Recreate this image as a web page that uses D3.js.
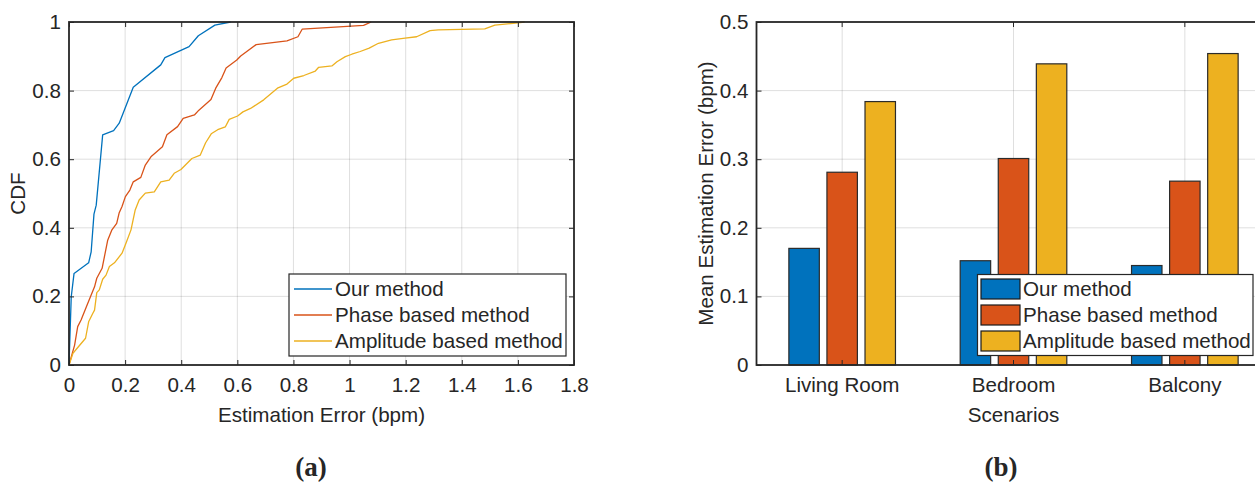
<!DOCTYPE html>
<html>
<head>
<meta charset="utf-8">
<script src="https://cdn.jsdelivr.net/npm/d3@7"></script>
<style>
  html, body { margin: 0; padding: 0; background: #fff; }
  svg { display: block; }
  text { font-family: "Liberation Sans", Arial, sans-serif; fill: #262626; }
</style>
</head>
<body>
<svg id="chart" width="1255" height="483"></svg>
<script>
// ---------- Data: panel (a) CDF ----------
const seriesNames = ["Our method", "Phase based method", "Amplitude based method"];
const seriesColors = ["#0072BD", "#D95319", "#EDB120"];

const ourX = [0, 0.008, 0.018, 0.070, 0.079, 0.089, 0.097, 0.120, 0.159, 0.179, 0.229, 0.327, 0.342, 0.428, 0.461, 0.520, 0.576];
const ourY = [0, 0.199, 0.267, 0.298, 0.330, 0.440, 0.466, 0.671, 0.683, 0.705, 0.810, 0.875, 0.896, 0.928, 0.960, 0.991, 1.0];

const phaseX = [0, 0.020, 0.031, 0.043, 0.067, 0.091, 0.099, 0.118, 0.138, 0.153, 0.170, 0.179, 0.189, 0.201, 0.217, 0.229, 0.256, 0.272, 0.292, 0.333, 0.349, 0.387, 0.407, 0.447, 0.463, 0.506, 0.523, 0.545, 0.560, 0.598, 0.612, 0.667, 0.777, 0.816, 0.831, 1.050, 1.077];
const phaseY = [0, 0.058, 0.112, 0.131, 0.180, 0.228, 0.253, 0.282, 0.364, 0.394, 0.413, 0.444, 0.462, 0.491, 0.510, 0.534, 0.547, 0.583, 0.607, 0.636, 0.671, 0.695, 0.719, 0.729, 0.743, 0.774, 0.807, 0.838, 0.866, 0.889, 0.901, 0.934, 0.945, 0.957, 0.979, 0.990, 1.0];

const ampX = [0, 0.014, 0.026, 0.059, 0.070, 0.085, 0.091, 0.099, 0.108, 0.120, 0.132, 0.144, 0.162, 0.189, 0.203, 0.221, 0.236, 0.250, 0.272, 0.304, 0.327, 0.357, 0.375, 0.399, 0.438, 0.468, 0.487, 0.507, 0.530, 0.557, 0.571, 0.601, 0.620, 0.647, 0.694, 0.745, 0.777, 0.801, 0.837, 0.878, 0.890, 0.937, 0.955, 0.985, 1.008, 1.038, 1.070, 1.103, 1.150, 1.198, 1.239, 1.287, 1.316, 1.482, 1.518, 1.583, 1.624];
const ampY = [0, 0.034, 0.046, 0.078, 0.126, 0.151, 0.160, 0.211, 0.219, 0.250, 0.262, 0.287, 0.298, 0.326, 0.355, 0.394, 0.452, 0.481, 0.501, 0.505, 0.534, 0.539, 0.559, 0.570, 0.602, 0.612, 0.648, 0.674, 0.686, 0.694, 0.716, 0.726, 0.738, 0.748, 0.773, 0.808, 0.819, 0.836, 0.844, 0.857, 0.868, 0.872, 0.884, 0.899, 0.906, 0.914, 0.924, 0.938, 0.948, 0.953, 0.957, 0.975, 0.977, 0.980, 0.991, 0.996, 1.0];

const cdfXTicks = [0, 0.2, 0.4, 0.6, 0.8, 1, 1.2, 1.4, 1.6, 1.8];
const cdfYTicks = [0, 0.2, 0.4, 0.6, 0.8, 1];

// ---------- Data: panel (b) bars ----------
const categories = ["Living Room", "Bedroom", "Balcony"];
const ourMean = [0.170, 0.152, 0.145];
const phaseMean = [0.281, 0.301, 0.268];
const ampMean = [0.384, 0.439, 0.454];
const barYTicks = [0, 0.1, 0.2, 0.3, 0.4, 0.5];

// ---------- Setup ----------
const svg = d3.select("#chart");
svg.append("rect").attr("width", 1255).attr("height", 483).attr("fill", "#fff");
const AX = "#262626", GRID = "rgba(38,38,38,0.15)", FS = 20.6;
const fmt = d3.format("~g");

// ---------- Panel (a) ----------
const xA = d3.scaleLinear().domain([0, 1.8]).range([69, 574]);
const yA = d3.scaleLinear().domain([0, 1]).range([365, 22]);
const gA = svg.append("g");

// grid
gA.selectAll(".vg").data(cdfXTicks.slice(1, -1)).join("line")
  .attr("x1", d => xA(d)).attr("x2", d => xA(d)).attr("y1", yA(0)).attr("y2", yA(1))
  .attr("stroke", GRID).attr("stroke-width", 1);
gA.selectAll(".hg").data(cdfYTicks.slice(1, -1)).join("line")
  .attr("y1", d => yA(d)).attr("y2", d => yA(d)).attr("x1", xA(0)).attr("x2", xA(1.8))
  .attr("stroke", GRID).attr("stroke-width", 1);

// curves
const cdfSeries = [[ourX, ourY], [phaseX, phaseY], [ampX, ampY]];
const lineA = d3.line().x(d => xA(d[0])).y(d => yA(d[1]));
cdfSeries.forEach((s, i) => {
  const pts = s[0].map((x, k) => [x, s[1][k]]);
  gA.append("path").attr("d", lineA(pts)).attr("fill", "none")
    .attr("stroke", seriesColors[i]).attr("stroke-width", 1.3).attr("stroke-linejoin", "round");
});

// axes
function styleAxis(g, hideLabels) {
  g.select(".domain").remove();
  g.selectAll(".tick line").attr("stroke", AX).attr("stroke-width", 1);
  g.selectAll(".tick text").attr("fill", AX).style("font-size", FS + "px")
    .style("font-family", '"Liberation Sans", Arial, sans-serif');
  if (hideLabels) g.selectAll(".tick text").remove();
}
gA.append("g").attr("transform", `translate(0,${yA(0)})`)
  .call(d3.axisBottom(xA).tickValues(cdfXTicks).tickFormat(fmt).tickSize(-5).tickPadding(12))
  .call(g => styleAxis(g, false));
gA.append("g").attr("transform", `translate(0,${yA(1)})`)
  .call(d3.axisTop(xA).tickValues(cdfXTicks).tickSize(-5))
  .call(g => styleAxis(g, true));
gA.append("g").attr("transform", `translate(${xA(0)},0)`)
  .call(d3.axisLeft(yA).tickValues(cdfYTicks).tickFormat(fmt).tickSize(-5).tickPadding(8))
  .call(g => styleAxis(g, false));
gA.append("g").attr("transform", `translate(${xA(1.8)},0)`)
  .call(d3.axisRight(yA).tickValues(cdfYTicks).tickSize(-5))
  .call(g => styleAxis(g, true));
gA.append("rect").attr("x", xA(0)).attr("y", yA(1))
  .attr("width", xA(1.8) - xA(0)).attr("height", yA(0) - yA(1))
  .attr("fill", "none").attr("stroke", AX).attr("stroke-width", 1.8);

gA.append("text").attr("x", (xA(0) + xA(1.8)) / 2).attr("y", 422)
  .attr("text-anchor", "middle").style("font-size", FS + "px").text("Estimation Error (bpm)");
gA.append("text").attr("transform", `translate(25,${(yA(0) + yA(1)) / 2}) rotate(-90)`)
  .attr("text-anchor", "middle").style("font-size", FS + "px").text("CDF");

// legend (a)
const legA = gA.append("g");
legA.append("rect").attr("x", 289).attr("y", 274).attr("width", 277).attr("height", 82)
  .attr("fill", "#fff").attr("stroke", AX).attr("stroke-width", 1.2);
seriesNames.forEach((n, i) => {
  const cy = 289 + i * 26;
  legA.append("line").attr("x1", 294).attr("x2", 332).attr("y1", cy).attr("y2", cy)
    .attr("stroke", seriesColors[i]).attr("stroke-width", 1.3);
  legA.append("text").attr("x", 335).attr("y", cy + 7).style("font-size", FS + "px").text(n);
});

// ---------- Panel (b) ----------
const xB = d3.scaleBand().domain(categories).range([756.5, 1270.5]).padding(0);
const yB = d3.scaleLinear().domain([0, 0.5]).range([365, 22]);
const half = xB.bandwidth() / 3;
const xInner = d3.scaleBand().domain(seriesNames).range([-half, half]).paddingInner(0.2).paddingOuter(0.1);
const gB = svg.append("g");

// grid
gB.selectAll(".vg").data(categories).join("line")
  .attr("x1", d => xB(d) + xB.bandwidth() / 2).attr("x2", d => xB(d) + xB.bandwidth() / 2)
  .attr("y1", yB(0)).attr("y2", yB(0.5)).attr("stroke", GRID).attr("stroke-width", 1);
gB.selectAll(".hg").data(barYTicks.slice(1, -1)).join("line")
  .attr("y1", d => yB(d)).attr("y2", d => yB(d)).attr("x1", 756.5).attr("x2", 1270.5)
  .attr("stroke", GRID).attr("stroke-width", 1);

// bars
const barSeries = [ourMean, phaseMean, ampMean];
barSeries.forEach((vals, i) => {
  gB.selectAll(".bar" + i).data(categories).join("rect")
    .attr("x", (c) => xB(c) + xB.bandwidth() / 2 + xInner(seriesNames[i]))
    .attr("width", xInner.bandwidth())
    .attr("y", (c, k) => yB(vals[k]))
    .attr("height", (c, k) => yB(0) - yB(vals[k]))
    .attr("fill", seriesColors[i]).attr("stroke", "#2b2b2b").attr("stroke-width", 1.2);
});

// axes
gB.append("g").attr("transform", `translate(0,${yB(0)})`)
  .call(d3.axisBottom(xB).tickSize(-5).tickPadding(12))
  .call(g => styleAxis(g, false));
gB.append("g").attr("transform", `translate(0,${yB(0.5)})`)
  .call(d3.axisTop(xB).tickSize(-5))
  .call(g => styleAxis(g, true));
gB.append("g").attr("transform", `translate(756.5,0)`)
  .call(d3.axisLeft(yB).tickValues(barYTicks).tickFormat(fmt).tickSize(-5).tickPadding(8))
  .call(g => styleAxis(g, false));
gB.append("rect").attr("x", 756.5).attr("y", yB(0.5))
  .attr("width", 1270.5 - 756.5).attr("height", yB(0) - yB(0.5))
  .attr("fill", "none").attr("stroke", AX).attr("stroke-width", 1.8);

gB.append("text").attr("x", xB("Bedroom") + xB.bandwidth() / 2).attr("y", 422)
  .attr("text-anchor", "middle").style("font-size", FS + "px").text("Scenarios");
gB.append("text").attr("transform", `translate(713,${(yB(0) + yB(0.5)) / 2}) rotate(-90)`)
  .attr("text-anchor", "middle").style("font-size", FS + "px").text("Mean Estimation Error (bpm)");

// legend (b)
const legB = gB.append("g");
legB.append("rect").attr("x", 977.5).attr("y", 274.5).attr("width", 275.5).attr("height", 81)
  .attr("fill", "#fff").attr("stroke", AX).attr("stroke-width", 1.2);
seriesNames.forEach((n, i) => {
  const cy = 289 + i * 26;
  legB.append("rect").attr("x", 981).attr("y", cy - 10).attr("width", 39).attr("height", 20)
    .attr("fill", seriesColors[i]).attr("stroke", "#1a1a1a").attr("stroke-width", 1.2);
  legB.append("text").attr("x", 1023).attr("y", cy + 7).style("font-size", FS + "px").text(n);
});

// ---------- Panel labels ----------
svg.append("text").attr("x", 311).attr("y", 476).attr("text-anchor", "middle")
  .style("font-family", '"Liberation Serif", "DejaVu Serif", serif').style("font-weight", "bold")
  .style("font-size", "27px").attr("fill", "#000").text("(a)");
svg.append("text").attr("x", 1001).attr("y", 476).attr("text-anchor", "middle")
  .style("font-family", '"Liberation Serif", "DejaVu Serif", serif').style("font-weight", "bold")
  .style("font-size", "27px").attr("fill", "#000").text("(b)");
</script>
</body>
</html>
